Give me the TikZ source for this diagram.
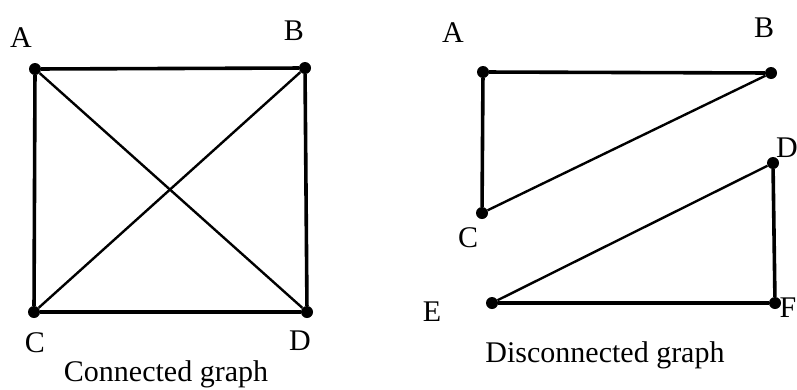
\documentclass[tikz,border=0pt]{standalone}
\usepackage{fontspec}
\setmainfont{Liberation Serif}
\usetikzlibrary{positioning}

\begin{document}
\begin{tikzpicture}[
    x=1pt, y=-1pt,
    vtx/.style={circle, fill=black, inner sep=0pt, minimum size=12pt},
    edg/.style={line width=3.6pt, black},
    diag/.style={line width=2.4pt, black},
    lbl/.style={font=\fontsize{30}{32}\selectfont, inner sep=0pt},
    caption/.style={font=\fontsize{30}{34}\selectfont, inner sep=0pt},
]
\useasboundingbox (0,0) rectangle (797,389);
% connected graph
\foreach \n/\x/\y in {A/35/69, B/305/68, C/34/312, D/307/312} {
  \node[vtx] (l\n) at (\x,\y) {};
}
\draw[edg] (lA) -- (lB) -- (lD) -- (lC) -- (lA);
\draw[diag] (lA) -- (lD);
\draw[diag] (lB) -- (lC);
\node[lbl] (tlA) at (21,38) {A};
\node[lbl] (tlB) at (294,31) {B};
\node[lbl] (tlC) at (35,343) {C};
\node[lbl] (tlD) at (300,341) {D};
\node[caption] (capL) at (166,374) {Connected graph};
% disconnected graph
\foreach \n/\x/\y in {A/483/72, B/771/73, C/482/213, D/773/163, E/492/303, F/775/303} {
  \node[vtx] (r\n) at (\x,\y) {};
}
\draw[edg] (rC) -- (rA) -- (rB);
\draw[diag] (rB) -- (rC);
\draw[edg] (rD) -- (rF) -- (rE);
\draw[diag] (rE) -- (rD);
\node[lbl] (trA) at (453,33) {A};
\node[lbl] (trB) at (764,28) {B};
\node[lbl] (trC) at (468,238) {C};
\node[lbl] (trD) at (787,148) {D};
\node[lbl] (trE) at (432,312) {E};
\node[lbl] (trF) at (788,308) {F};
\node[caption] (capR) at (605,355) {Disconnected graph};
\end{tikzpicture}
\end{document}
